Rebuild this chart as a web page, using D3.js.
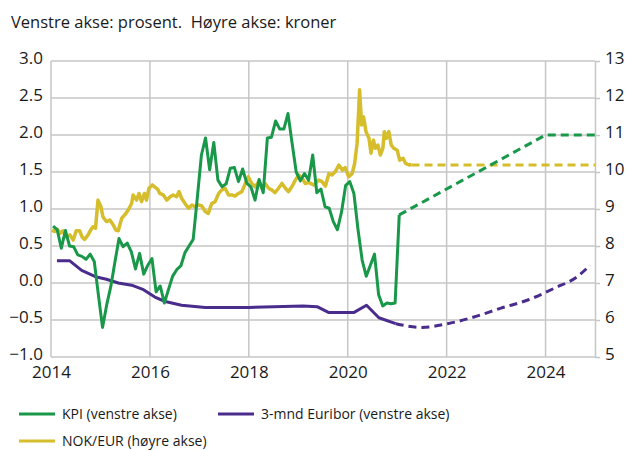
<!DOCTYPE html>
<html>
<head>
<meta charset="utf-8">
<script src="https://cdn.jsdelivr.net/npm/d3@7"></script>
<style>
  body { margin: 0; background: #fff; }
  text { font-family: "Open Sans", sans-serif; fill: #1a1a1a; }
</style>
</head>
<body>
<div id="chart"></div>
<script>
// KPI, monthly from Jan 2014 to Jan 2021 (left axis, percent)
var kpiStartYear = 2014;
var kpiValues = [
  0.77, 0.72, 0.47, 0.71, 0.50, 0.49, 0.38, 0.36, 0.32, 0.39, 0.29, -0.16,
  -0.60, -0.30, -0.05, 0.28, 0.60, 0.49, 0.54, 0.42, 0.19, 0.40, 0.12, 0.24,
  0.33, -0.12, -0.04, -0.27, -0.09, 0.09, 0.18, 0.23, 0.41, 0.50, 0.59, 1.15,
  1.73, 1.96, 1.53, 1.90, 1.39, 1.30, 1.34, 1.55, 1.56, 1.37, 1.54, 1.35,
  1.30, 1.12, 1.40, 1.22, 1.96, 1.97, 2.19, 2.08, 2.08, 2.29, 1.89, 1.50,
  1.38, 1.48, 1.39, 1.73, 1.22, 1.27, 1.03, 1.01, 0.83, 0.72, 0.96, 1.32,
  1.37, 1.21, 0.72, 0.31, 0.09, 0.24, 0.39, -0.16, -0.31, -0.27, -0.28, -0.27,
  0.92
];
var kpiFcYears = [2021.04, 2024.0, 2025.0];
var kpiFcValues = [0.92, 2.0, 2.0];

// 3-mnd Euribor (left axis, percent)
var euriborYears = [2014.12, 2014.38, 2014.62, 2014.92, 2015.12, 2015.36, 2015.63, 2015.87,
  2016.10, 2016.31, 2016.64, 2017.12, 2018.0, 2019.10, 2019.38, 2019.62, 2020.12, 2020.38,
  2020.63, 2020.97];
var euriborValues = [0.30, 0.30, 0.17, 0.08, 0.05, 0.00, -0.03, -0.09,
  -0.19, -0.25, -0.30, -0.33, -0.33, -0.31, -0.32, -0.40, -0.40, -0.30,
  -0.47, -0.55];
var euriborFcYears = [2020.97, 2021.5, 2022.02, 2022.55, 2023.1, 2023.64, 2024.18, 2024.65, 2024.9];
var euriborFcValues = [-0.55, -0.60, -0.55, -0.46, -0.34, -0.23, -0.07, 0.09, 0.24];

// NOK/EUR (right axis, kroner)
var nokYears = [2014.02, 2014.08, 2014.13, 2014.18, 2014.24, 2014.31, 2014.38, 2014.45, 2014.51,
  2014.58, 2014.63, 2014.68, 2014.75, 2014.80, 2014.85, 2014.90, 2014.95, 2015.01, 2015.05,
  2015.12, 2015.19, 2015.26, 2015.31, 2015.36, 2015.43, 2015.49, 2015.56, 2015.63, 2015.66,
  2015.73, 2015.78, 2015.83, 2015.89, 2015.93, 2015.98, 2016.05, 2016.10, 2016.16, 2016.20,
  2016.27, 2016.34, 2016.41, 2016.47, 2016.54, 2016.59, 2016.64, 2016.71, 2016.78, 2016.85,
  2016.91, 2016.98, 2017.05, 2017.12, 2017.18, 2017.25, 2017.32, 2017.39, 2017.45, 2017.52,
  2017.59, 2017.66, 2017.72, 2017.79, 2017.86, 2017.93, 2017.99, 2018.06, 2018.13, 2018.20,
  2018.27, 2018.33, 2018.40, 2018.47, 2018.53, 2018.60, 2018.67, 2018.74, 2018.80, 2018.87,
  2018.94, 2019.01, 2019.08, 2019.14, 2019.21, 2019.31, 2019.41, 2019.48, 2019.55, 2019.62,
  2019.68, 2019.75, 2019.82, 2019.89, 2019.95, 2020.02, 2020.09, 2020.14, 2020.19, 2020.24,
  2020.28, 2020.32, 2020.37, 2020.43, 2020.47, 2020.52, 2020.56, 2020.61, 2020.66, 2020.71,
  2020.74, 2020.78, 2020.83, 2020.88, 2020.93, 2021.00, 2021.05, 2021.12, 2021.17, 2021.24,
  2021.29];
var nokValues = [8.43, 8.39, 8.45, 8.34, 8.41, 8.24, 8.30, 8.16, 8.41,
  8.41, 8.24, 8.18, 8.30, 8.43, 8.52, 8.48, 9.24, 9.06, 8.79,
  8.66, 8.70, 8.57, 8.43, 8.41, 8.75, 8.84, 8.97, 9.15, 9.38,
  9.24, 9.42, 9.20, 9.42, 9.24, 9.56, 9.65, 9.59, 9.53, 9.42,
  9.38, 9.24, 9.33, 9.38, 9.33, 9.47, 9.29, 9.15, 9.02, 9.11,
  9.06, 9.11, 9.08, 8.93, 8.88, 9.15, 9.20, 9.42, 9.51, 9.56,
  9.38, 9.38, 9.35, 9.42, 9.47, 9.69, 9.87, 9.69, 9.60, 9.74,
  9.56, 9.69, 9.56, 9.51, 9.44, 9.56, 9.69, 9.56, 9.47, 9.60,
  9.78, 9.92, 9.83, 9.69, 9.72, 9.65, 9.78, 9.74, 9.62, 9.96,
  9.92, 10.01, 10.19, 10.05, 10.12, 9.87, 9.96, 10.23, 10.78, 12.22,
  11.27, 11.49, 11.09, 10.91, 10.51, 10.86, 10.64, 10.73, 10.46, 10.64,
  11.09, 10.91, 11.09, 10.73, 10.64, 10.59, 10.32, 10.37, 10.23, 10.19,
  10.20];
var nokFcYears = [2021.29, 2025.0];
var nokFcValues = [10.19, 10.19];

var leftTicks = [-1.0, -0.5, 0.0, 0.5, 1.0, 1.5, 2.0, 2.5, 3.0];
var rightTicks = [5, 6, 7, 8, 9, 10, 11, 12, 13];
var yearTicks = [2014, 2016, 2018, 2020, 2022, 2024];

var colors = { kpi: "#19984a", euribor: "#4a2c8d", nok: "#d5bd2b" };

var svgWidth = 628;
var svgHeight = 450;
var margin = { top: 61, right: 33, bottom: 93, left: 51 };
var width = svgWidth - margin.left - margin.right;
var height = svgHeight - margin.top - margin.bottom;

var svg = d3.select("#chart")
  .append("svg")
    .attr("width", svgWidth)
    .attr("height", svgHeight)
    .style("background", "#fff");

svg.append("text")
  .attr("x", 11)
  .attr("y", 28)
  .attr("font-size", "16.5px")
  .style("white-space", "pre")
  .text("Venstre akse: prosent.  Høyre akse: kroner");

var chart = svg.append("g")
  .attr("transform", `translate(${margin.left}, ${margin.top})`);

var x = d3.scaleLinear().domain([2014, 2025]).range([0, width]);
var yL = d3.scaleLinear().domain([-1, 3]).range([height, 0]);
var yR = d3.scaleLinear().domain([5, 13]).range([height, 0]);

// gridlines
chart.append("g").selectAll("line")
  .data(leftTicks)
  .enter()
  .append("line")
    .attr("x1", 0).attr("x2", width)
    .attr("y1", d => yL(d)).attr("y2", d => yL(d))
    .attr("stroke", "#c6c6c6").attr("stroke-width", 1.5);

chart.append("g").selectAll("line")
  .data(yearTicks)
  .enter()
  .append("line")
    .attr("x1", d => x(d)).attr("x2", d => x(d))
    .attr("y1", 0).attr("y2", height)
    .attr("stroke", "#c6c6c6").attr("stroke-width", 1.5);

// left axis labels
var leftAxis = d3.axisLeft(yL).tickValues(leftTicks).tickSize(0).tickPadding(8)
  .tickFormat(d3.format(".1f"));
var gl = chart.append("g").call(leftAxis);
gl.select(".domain").remove();
gl.selectAll("text").attr("font-size", "17px").attr("font-family", "Open Sans").attr("fill", "#1a1a1a")
  .attr("dy", "0.15em");

// right axis
var rightAxis = d3.axisRight(yR).tickValues(rightTicks).tickSize(5).tickSizeOuter(0).tickPadding(5);
var gr = chart.append("g")
  .attr("transform", `translate(${width}, 0)`)
  .call(rightAxis);
gr.select(".domain").attr("stroke", "#c6c6c6").attr("stroke-width", 1.5);
gr.selectAll(".tick line").attr("stroke", "#c6c6c6").attr("stroke-width", 1.5);
gr.selectAll("text").attr("font-size", "17px").attr("font-family", "Open Sans").attr("fill", "#1a1a1a")
  .attr("dy", "0.15em");

// bottom axis labels
var bottomAxis = d3.axisBottom(x).tickValues(yearTicks).tickSize(0).tickPadding(9)
  .tickFormat(d3.format("d"));
var gb = chart.append("g")
  .attr("transform", `translate(0, ${height})`)
  .call(bottomAxis);
gb.select(".domain").remove();
gb.selectAll("text").attr("font-size", "17px").attr("font-family", "Open Sans").attr("fill", "#1a1a1a");

// series
var kpiData = kpiValues.map((v, i) => ({ t: kpiStartYear + (i + 0.5) / 12, v: v }));
var kpiFc = kpiFcYears.map((t, i) => ({ t: t, v: kpiFcValues[i] }));
var eurData = euriborYears.map((t, i) => ({ t: t, v: euriborValues[i] }));
var eurFc = euriborFcYears.map((t, i) => ({ t: t, v: euriborFcValues[i] }));
var nokData = nokYears.map((t, i) => ({ t: t, v: nokValues[i] }));
var nokFc = nokFcYears.map((t, i) => ({ t: t, v: nokFcValues[i] }));

var lineL = d3.line().x(d => x(d.t)).y(d => yL(d.v));
var lineR = d3.line().x(d => x(d.t)).y(d => yR(d.v));
var lineLSmooth = d3.line().curve(d3.curveMonotoneX).x(d => x(d.t)).y(d => yL(d.v));

function drawLine(data, gen, color, w, dash) {
  chart.append("path")
    .datum(data)
    .attr("fill", "none")
    .attr("stroke", color)
    .attr("stroke-width", w)
    .attr("stroke-linejoin", "round")
    .attr("stroke-dasharray", dash || null)
    .attr("d", gen);
}

drawLine(nokData, lineR, colors.nok, 3.5);
drawLine(nokFc, lineR, colors.nok, 3, "8,5");
drawLine(eurData, lineL, colors.euribor, 3);
drawLine(eurFc, lineLSmooth, colors.euribor, 3, "8,5");
drawLine(kpiData, lineL, colors.kpi, 3);
drawLine(kpiFc, lineL, colors.kpi, 3, "8,5");

// legend
var legendItems = [
  { label: "KPI (venstre akse)", color: colors.kpi, x: 19, y: 414 },
  { label: "3-mnd Euribor (venstre akse)", color: colors.euribor, x: 218, y: 414 },
  { label: "NOK/EUR (høyre akse)", color: colors.nok, x: 19, y: 441 }
];
var legend = svg.append("g").selectAll("g")
  .data(legendItems)
  .enter()
  .append("g")
    .attr("transform", d => `translate(${d.x}, ${d.y})`);
legend.append("line")
  .attr("x1", 0).attr("x2", 36)
  .attr("stroke", d => d.color).attr("stroke-width", 3);
legend.append("text")
  .attr("x", 43)
  .attr("dy", "0.35em")
  .attr("font-size", "14px")
  .text(d => d.label);
</script>
</body>
</html>
